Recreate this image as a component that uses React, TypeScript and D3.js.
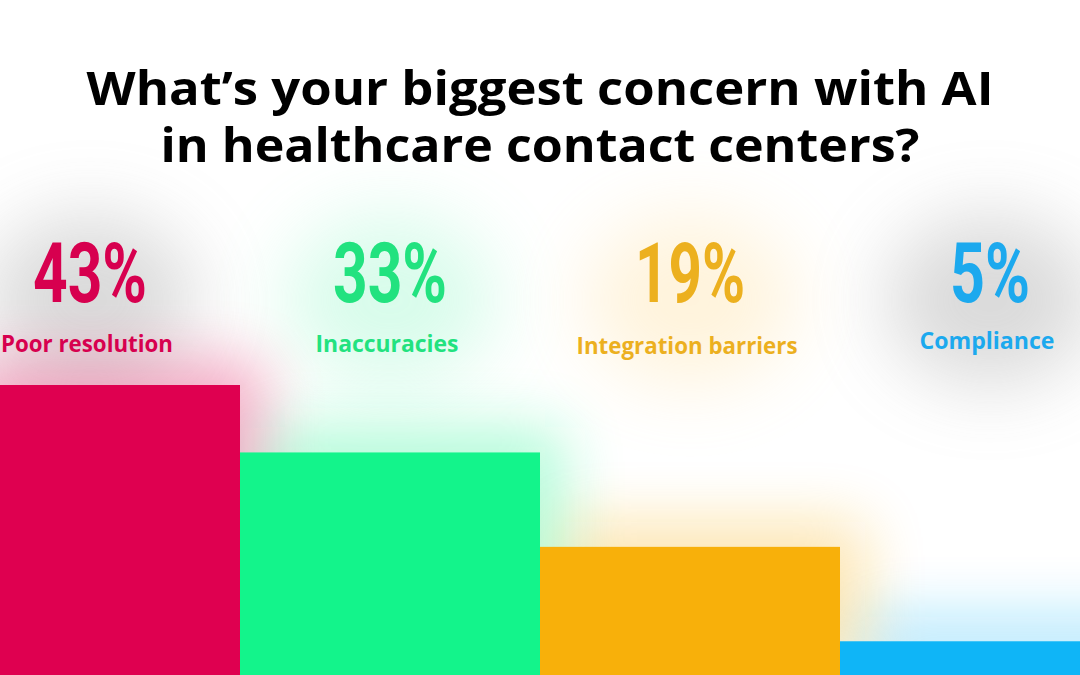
import React from "react";
import * as d3 from "d3";

const categories = ["Poor resolution", "Inaccuracies", "Integration barriers", "Compliance"];
const values = [43, 33, 19, 5];
const valueLabels = ["43%", "33%", "19%", "5%"];
const titleLines = ["What’s your biggest concern with AI", "in healthcare contact centers?"];

const barColors = ["#DF0050", "#13F48B", "#F8B00A", "#0FB5F7"];
const textColors = ["#D7004F", "#22E27F", "#ECB01F", "#1CA9EE"];
const haloColors = ["#9a9a9a", "#7ff5bd", "#ffd98a", "#9a9a9a"];
const numWidths = [114, 114, 110, 80];
const labelWidths = [172, 143, 221, 135];
const labelBaselines = [352, 352, 354, 349];

const W = 1080;
const H = 675;

export default function App() {
  const x = d3.scaleBand<string>().domain(categories).range([-60, 1140]).padding(0);
  const y = d3.scaleLinear().domain([0, 43]).range([H, 385]);
  const titleFont = "'Open Sans', 'Lato', sans-serif";
  return (
    <svg
      width={W}
      height={H}
      viewBox={`0 0 ${W} ${H}`}
      style={{ position: "absolute", left: 0, top: 0, display: "block", background: "#fff" }}
    >
      <defs>
        <filter id="haloBlur" x="-100%" y="-100%" width="300%" height="300%">
          <feGaussianBlur stdDeviation="38" />
        </filter>
        <filter id="barBlur" x="-100%" y="-100%" width="300%" height="300%">
          <feGaussianBlur stdDeviation="30" />
        </filter>
      </defs>
      <rect x={0} y={0} width={W} height={H} fill="#fff" />
      {/* halos behind text columns */}
      {categories.map((c, i) => {
        const cx = (x(c) as number) + x.bandwidth() / 2;
        return (
          <ellipse
            key={"halo" + c}
            cx={cx}
            cy={300}
            rx={105}
            ry={85}
            fill={haloColors[i]}
            opacity={i === 0 || i === 3 ? 0.36 : 0.3}
            filter="url(#haloBlur)"
          />
        );
      })}
      {/* blurred glow copies of bars */}
      {categories.map((c, i) => (
        <rect
          key={"glow" + c}
          x={(x(c) as number) + 25}
          y={y(values[i]) - 25}
          width={x.bandwidth()}
          height={H - y(values[i]) + 25}
          fill={barColors[i]}
          opacity={0.32}
          filter="url(#barBlur)"
        />
      ))}
      {/* bars */}
      {categories.map((c, i) => (
        <rect
          key={"bar" + c}
          x={x(c) as number}
          y={y(values[i])}
          width={x.bandwidth()}
          height={H - y(values[i])}
          fill={barColors[i]}
        />
      ))}
      {/* title */}
      {titleLines.map((t, i) => (
        <text
          key={"t" + i}
          x={W / 2}
          y={105 + i * 57}
          textAnchor="middle"
          fontFamily={titleFont}
          fontWeight={700}
          fontSize={46}
          fill="#000"
          textLength={i === 0 ? 907 : 759}
          lengthAdjust="spacingAndGlyphs"
        >
          {t}
        </text>
      ))}
      {/* value numbers */}
      {categories.map((c, i) => {
        const cx = (x(c) as number) + x.bandwidth() / 2;
        return (
          <text
            key={"v" + c}
            x={cx}
            y={302}
            textAnchor="middle"
            fontFamily="Roboto, 'DejaVu Sans Condensed', sans-serif"
            fontWeight={700}
            fontSize={84}
            fill={textColors[i]}
            textLength={numWidths[i]}
            lengthAdjust="spacingAndGlyphs"
          >
            {valueLabels[i]}
          </text>
        );
      })}
      {/* category labels */}
      {categories.map((c, i) => {
        const cx = (x(c) as number) + x.bandwidth() / 2;
        return (
          <text
            key={"l" + c}
            x={cx - 3}
            y={labelBaselines[i]}
            textAnchor="middle"
            fontFamily={titleFont}
            fontWeight={700}
            fontSize={23}
            fill={textColors[i]}
            textLength={labelWidths[i]}
            lengthAdjust="spacingAndGlyphs"
          >
            {c}
          </text>
        );
      })}
    </svg>
  );
}
